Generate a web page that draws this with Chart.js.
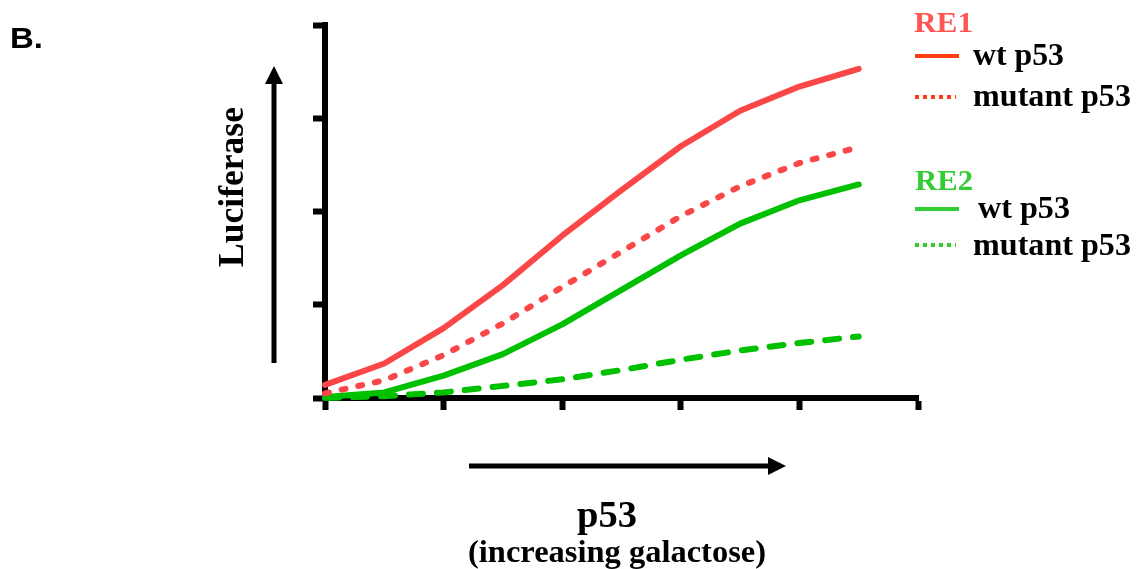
<!DOCTYPE html>
<html>
<head>
<meta charset="utf-8">
<script src="https://cdn.jsdelivr.net/npm/chart.js@4"></script>
<style>
  body { margin: 0; background: #fff; }
  #wrap { width: 1140px; height: 569px; position: relative; }
</style>
</head>
<body>
<div id="wrap"><canvas id="chart"></canvas></div>
<script>
// galactose steps (x) and luciferase readings
const steps = [0, 1, 2, 3, 4, 5, 6, 7, 8, 9];
const re1Wt = [0.14, 0.37, 0.75, 1.21, 1.74, 2.23, 2.70, 3.08, 3.34, 3.53];
const re1Mut = [0.05, 0.19, 0.46, 0.80, 1.19, 1.57, 1.95, 2.27, 2.52, 2.69];
const re2Wt = [0.01, 0.06, 0.24, 0.47, 0.79, 1.16, 1.53, 1.87, 2.12, 2.29];
const re2Mut = [0.00, 0.02, 0.06, 0.13, 0.20, 0.30, 0.41, 0.51, 0.59, 0.66];

const RED = '#fb4747';
const GREEN = '#00c000';

const toPoints = (vals) => steps.map((s, i) => ({ x: s, y: vals[i] }));

const serif = '"Liberation Serif", "Times New Roman", serif';

// draw text squeezed/stretched to a given width
function fitText(ctx, text, x, y, size, width, font) {
    ctx.save();
    ctx.font = 'bold ' + size + 'px ' + (font || serif);
    const w = ctx.measureText(text).width;
    ctx.translate(x, y);
    ctx.scale(width / w, 1);
    ctx.textAlign = 'left';
    ctx.textBaseline = 'alphabetic';
    ctx.fillText(text, 0, 0);
    ctx.restore();
}

function arrow(ctx, x1, y1, x2, y2) {
    const ang = Math.atan2(y2 - y1, x2 - x1);
    const headLen = 18, headW = 9;
    ctx.save();
    ctx.strokeStyle = '#000';
    ctx.fillStyle = '#000';
    ctx.lineWidth = 5;
    ctx.beginPath();
    ctx.moveTo(x1, y1);
    ctx.lineTo(x2 - Math.cos(ang) * headLen, y2 - Math.sin(ang) * headLen);
    ctx.stroke();
    ctx.translate(x2, y2);
    ctx.rotate(ang);
    ctx.beginPath();
    ctx.moveTo(0, 0);
    ctx.lineTo(-headLen, -headW);
    ctx.lineTo(-headLen, headW);
    ctx.closePath();
    ctx.fill();
    ctx.restore();
}

const decorations = {
    id: 'decorations',
    afterDraw(chart) {
        const ctx = chart.ctx;
        ctx.save();
        ctx.fillStyle = '#000';
        fitText(ctx, 'B.', 10, 48, 30, 33, '"Liberation Sans", Arial, sans-serif');

        // axis arrows
        arrow(ctx, 274, 363, 274, 66);
        arrow(ctx, 469, 466, 786, 466);

        // Luciferase (rotated)
        ctx.save();
        ctx.translate(243, 267);
        ctx.rotate(-Math.PI / 2);
        fitText(ctx, 'Luciferase', 0, 0, 35, 160);
        ctx.restore();

        fitText(ctx, 'p53', 577, 527, 37, 60);
        fitText(ctx, '(increasing galactose)', 468, 562, 32, 298);

        // legend
        ctx.fillStyle = '#ff5555';
        fitText(ctx, 'RE1', 914, 32, 30, 59);
        ctx.fillStyle = '#33cc33';
        fitText(ctx, 'RE2', 915, 190, 30, 58);

        ctx.lineWidth = 4;
        ctx.strokeStyle = '#ff3c14';
        ctx.beginPath(); ctx.moveTo(915, 56); ctx.lineTo(959, 56); ctx.stroke();
        ctx.setLineDash([4, 4]);
        ctx.beginPath(); ctx.moveTo(915, 97); ctx.lineTo(956, 97); ctx.stroke();
        ctx.setLineDash([]);
        ctx.strokeStyle = '#33cc33';
        ctx.beginPath(); ctx.moveTo(915, 209); ctx.lineTo(959, 209); ctx.stroke();
        ctx.setLineDash([4, 4]);
        ctx.beginPath(); ctx.moveTo(915, 245); ctx.lineTo(956, 245); ctx.stroke();
        ctx.setLineDash([]);

        ctx.fillStyle = '#000';
        fitText(ctx, 'wt p53', 973, 65, 31, 91);
        fitText(ctx, 'mutant p53', 973, 106, 31, 158);
        fitText(ctx, 'wt p53', 978, 218, 31, 92);
        fitText(ctx, 'mutant p53', 973, 255, 31, 158);
        ctx.restore();
    }
};

const lineStyle = {
    borderWidth: 6,
    pointRadius: 0,
    tension: 0,
    fill: false,
    borderCapStyle: 'round',
    borderJoinStyle: 'round',
    clip: false
};

new Chart(document.getElementById('chart'), {
    type: 'line',
    data: {
        datasets: [
            { ...lineStyle, label: 'RE1 wt p53', data: toPoints(re1Wt), borderColor: RED },
            { ...lineStyle, label: 'RE1 mutant p53', data: toPoints(re1Mut), borderColor: RED, borderDash: [4, 13] },
            { ...lineStyle, label: 'RE2 wt p53', data: toPoints(re2Wt), borderColor: GREEN },
            { ...lineStyle, label: 'RE2 mutant p53', data: toPoints(re2Mut), borderColor: GREEN, borderDash: [14, 14] }
        ]
    },
    options: {
        responsive: true,
        maintainAspectRatio: false,
        animation: false,
        layout: { padding: { left: 0, top: 25, right: 222, bottom: 0 } },
        plugins: {
            legend: { display: false },
            tooltip: { enabled: false }
        },
        scales: {
            x: {
                type: 'linear',
                min: 0,
                max: 10,
                ticks: { display: false, stepSize: 2 },
                grid: { drawOnChartArea: false, drawTicks: true, tickLength: 12, tickWidth: 6, color: '#000' },
                border: { display: true, width: 6, color: '#000' },
                afterFit: (s) => { s.height = 171; }
            },
            y: {
                min: 0,
                max: 4,
                ticks: { display: false, stepSize: 1 },
                grid: { drawOnChartArea: false, drawTicks: true, tickLength: 12, tickWidth: 6, color: '#000' },
                border: { display: true, width: 6, color: '#000' },
                afterFit: (s) => { s.width = 325; }
            }
        }
    },
    plugins: [decorations]
});
</script>
</body>
</html>
